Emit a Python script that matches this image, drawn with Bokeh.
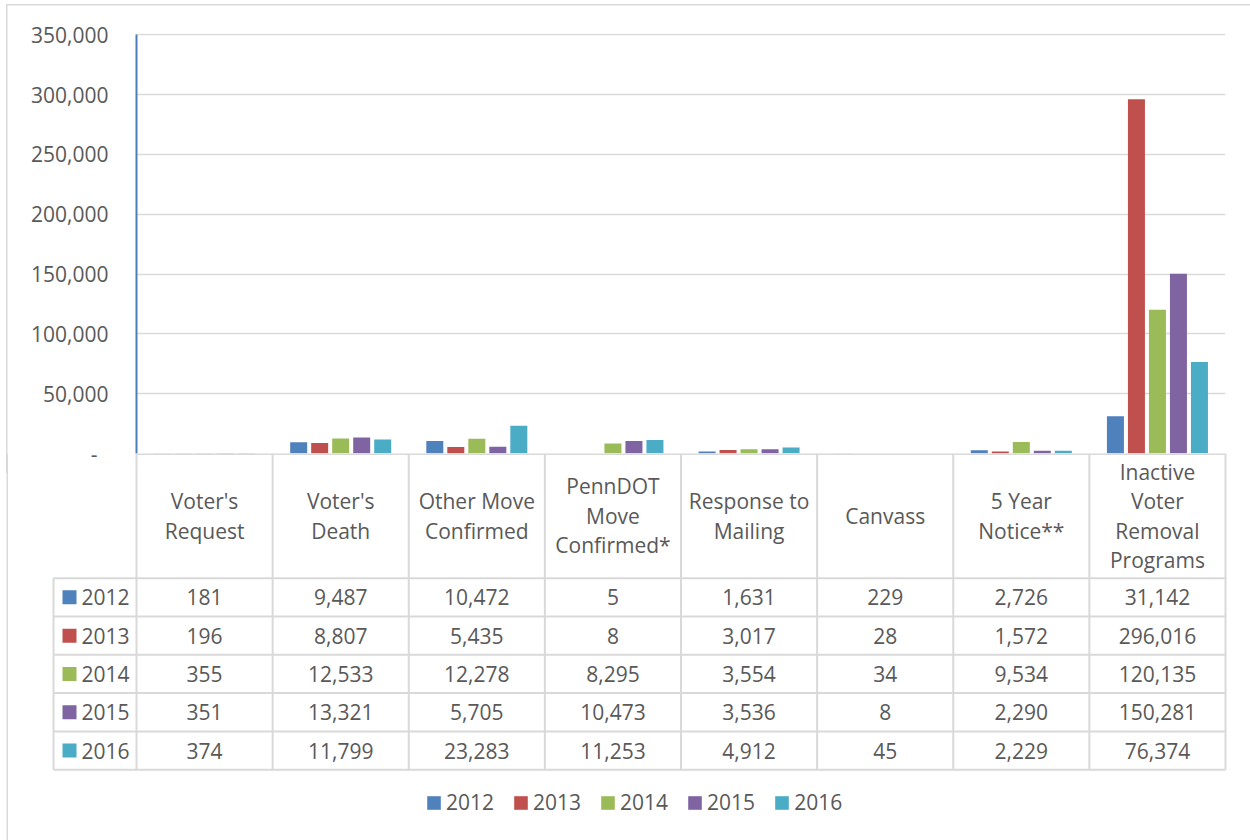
from bokeh.plotting import figure
from bokeh.models import (Range1d, FixedTicker, NumeralTickFormatter, ColumnDataSource,
                          Legend, LegendItem)
from bokeh.transform import dodge
from bokeh.core.properties import value
from bokeh.embed import file_html
from bokeh.resources import INLINE

# ---------------- data ----------------
categories = ["Voter's\nRequest", "Voter's\nDeath", "Other Move\nConfirmed",
              "PennDOT\nMove\nConfirmed*", "Response to\nMailing", "Canvass",
              "5 Year\nNotice**", "Inactive\nVoter\nRemoval\nPrograms"]
years = ["2012", "2013", "2014", "2015", "2016"]
v2012 = [181, 9487, 10472, 5, 1631, 229, 2726, 31142]
v2013 = [196, 8807, 5435, 8, 3017, 28, 1572, 296016]
v2014 = [355, 12533, 12278, 8295, 3554, 34, 9534, 120135]
v2015 = [351, 13321, 5705, 10473, 3536, 8, 2290, 150281]
v2016 = [374, 11799, 23283, 11253, 4912, 45, 2229, 76374]
series = [v2012, v2013, v2014, v2015, v2016]
colors = ["#4F81BD", "#C0504D", "#9BBB59", "#8064A2", "#4BACC6"]
y_ticks = [0, 50000, 100000, 150000, 200000, 250000, 300000, 350000]

FONT = value("Open Sans")
FS = "21px"
TXT = "#595959"
GRID = "#d9d9d9"
OVERLAP = 20

n = len(categories)
src = ColumnDataSource(dict(xc=[i + 0.5 for i in range(n)],
                            **{y: s for y, s in zip(years, series)}))

# ---------------- top: bar chart ----------------
border_css = {
    "background-color": "white",
    "background-image": f"linear-gradient({GRID}, {GRID}), linear-gradient({GRID}, {GRID})",
    "background-size": "1.5px 100%, 100% 1.5px",
    "background-position": "6px 4px, 6px 4px",
    "background-repeat": "no-repeat",
}
p1 = figure(frame_width=1089, frame_height=420, min_border_left=136, min_border_right=25,
            min_border_top=33, min_border_bottom=OVERLAP,
            x_range=Range1d(0, n), y_range=Range1d(0, 351000),
            output_backend="svg", toolbar_location=None, x_axis_location=None,
            styles=border_css)
p1.outline_line_color = None
p1.border_fill_color = None
p1.background_fill_color = "white"
p1.xgrid.visible = False
p1.ygrid.ticker = FixedTicker(ticks=y_ticks)
p1.ygrid.grid_line_color = GRID
p1.ygrid.grid_line_width = 1.5
yax = p1.yaxis[0]
yax.ticker = FixedTicker(ticks=y_ticks)
yax.formatter = NumeralTickFormatter(format="0,0")
yax.major_label_overrides = {0: "-\u00a0\u00a0"}
yax.bounds = (0, 350000)
yax.axis_line_color = "#4a7ebb"
yax.axis_line_width = 2
yax.major_tick_line_color = None
yax.minor_tick_line_color = None
yax.major_tick_out = 0
yax.major_tick_in = 0
yax.major_label_standoff = 28
yax.major_label_text_font = "Open Sans"
yax.major_label_text_font_size = FS
yax.major_label_text_color = TXT

pitch = 0.1543
bw = 0.1249
for k, (yr, col) in enumerate(zip(years, colors)):
    p1.vbar(x=dodge("xc", (k - 2) * pitch, range=p1.x_range), top=yr, bottom=0,
            width=bw, source=src, fill_color=col, line_color=None)

# ---------------- bottom: data table + legend ----------------
H2 = 387
p2 = figure(width=1250, height=H2, min_border=0,
            x_range=Range1d(-136 / 136.125, 1114 / 136.125), y_range=Range1d(H2, 0),
            output_backend="svg", toolbar_location=None,
            x_axis_location=None, y_axis_location=None,
            styles={"margin-top": f"-{OVERLAP}px"})
p2.outline_line_color = None
p2.grid.visible = False
p2.background_fill_color = None
p2.border_fill_color = None

head_h = 124.7
row_h = 38.3
left_x = (53 - 136) / 136.125
table_bottom = head_h + row_h * len(years)

# outer border left edge
p2.segment(x0=[(6.75 - 136) / 136.125], y0=[0], x1=[(6.75 - 136) / 136.125], y1=[H2],
           line_color=GRID, line_width=1.5)

# horizontal lines
hx0 = [0] + [left_x] * (len(years) + 1)
hx1 = [n] * (len(years) + 2)
hy = [0.5] + [head_h + row_h * k for k in range(len(years) + 1)]
p2.segment(x0=hx0, y0=hy, x1=hx1, y1=hy, line_color=GRID, line_width=2)
# vertical lines
vx = [left_x] + list(range(n + 1))
vy0 = [head_h] + [0] * (n + 1)
vy1 = [table_bottom] * (n + 2)
p2.segment(x0=vx, y0=vy0, x1=vx, y1=vy1, line_color=GRID, line_width=2)

# header texts
p2.text(x=[i + 0.5 for i in range(n)], y=[head_h / 2] * n, text=categories,
        text_align="center", text_baseline="middle", text_font=FONT,
        text_font_size=FS, text_color=TXT, text_line_height=1.05)

# rows
legend_items = []
for k, (yr, s, col) in enumerate(zip(years, series, colors)):
    yc = head_h + row_h * (k + 0.5)
    p2.text(x=[i + 0.5 for i in range(n)], y=[yc] * n, text=[f"{v:,}" for v in s],
            text_align="center", text_baseline="middle", text_font=FONT,
            text_font_size=FS, text_color=TXT)
    r = p2.rect(x=[(69 - 136) / 136.125], y=[yc], width=14, height=14,
                width_units="screen", height_units="screen",
                fill_color=col, line_color=None)
    p2.text(x=[(81 - 136) / 136.125], y=[yc], text=[yr], text_align="left",
            text_baseline="middle", text_font=FONT, text_font_size=FS, text_color=TXT)
    legend_items.append(LegendItem(label=yr, renderers=[r]))

legend = Legend(items=legend_items, orientation="horizontal", location=(425, 24),
                glyph_width=17, glyph_height=17, label_standoff=4, spacing=18,
                padding=0, margin=0, border_line_color=None, background_fill_alpha=0,
                label_text_font="Open Sans", label_text_font_size=FS,
                label_text_color=TXT)
p2.add_layout(legend)

open("out.html", "w").write(file_html([p1, p2], INLINE))
